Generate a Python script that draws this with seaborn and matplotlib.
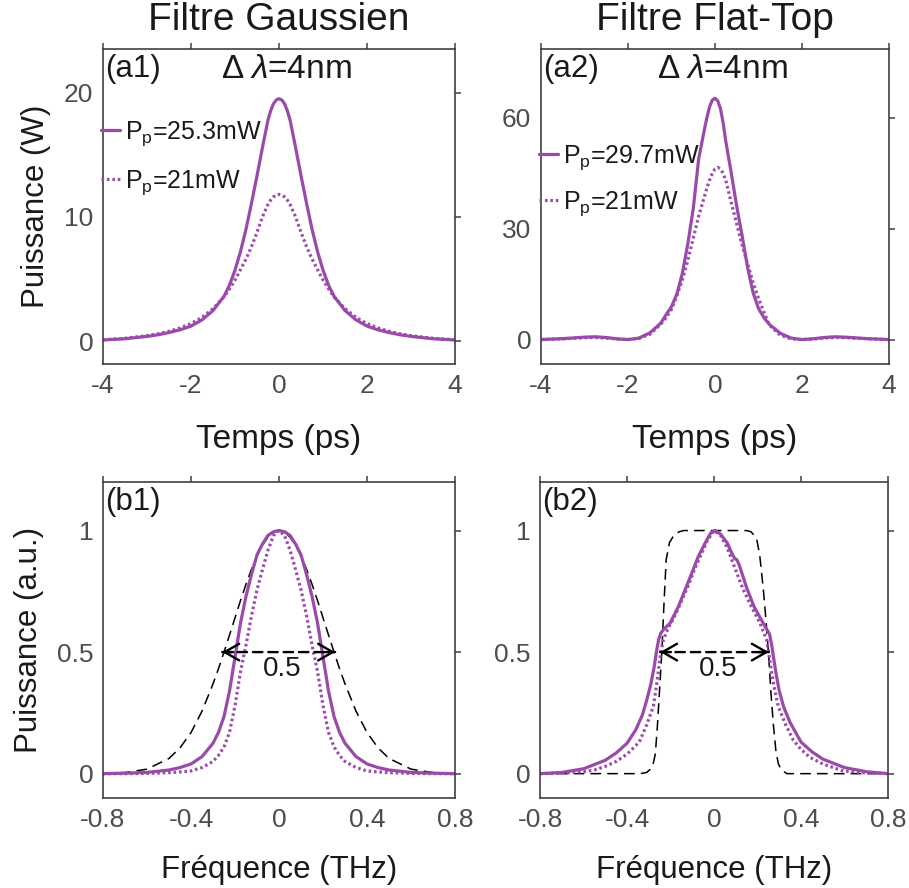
import matplotlib
matplotlib.use("Agg")
import matplotlib.pyplot as plt
import seaborn as sns
import pandas as pd

# ---------------- data ----------------
t_ps = [-4, -3.5, -3, -2.75, -2.5, -2.25, -2, -1.75, -1.5, -1.25, -1.125, -1,
        -0.875, -0.75, -0.625, -0.5, -0.375, -0.25, -0.1875, -0.125, -0.0625,
        0, 0.0625, 0.125, 0.1875, 0.25, 0.375, 0.5, 0.625, 0.75, 0.875, 1,
        1.125, 1.25, 1.5, 1.75, 2, 2.25, 2.5, 2.75, 3, 3.5, 4]

a1_high = [0.08, 0.18, 0.37, 0.5, 0.68, 0.9, 1.2, 1.7, 2.45, 3.6, 4.5, 5.7,
           7.2, 9.0, 11.1, 13.3, 15.6, 17.8, 18.55, 19.1, 19.4, 19.5, 19.4,
           19.1, 18.55, 17.8, 15.6, 13.3, 11.1, 9.0, 7.2, 5.7, 4.5, 3.6, 2.45,
           1.7, 1.2, 0.9, 0.68, 0.5, 0.37, 0.18, 0.08]
a1_low = [0.1, 0.22, 0.43, 0.58, 0.78, 1.05, 1.4, 1.9, 2.6, 3.55, 4.2, 4.9,
          5.75, 6.6, 7.6, 8.75, 10.0, 11.0, 11.35, 11.6, 11.75, 11.8, 11.75,
          11.6, 11.35, 11.0, 10.0, 8.75, 7.6, 6.6, 5.75, 4.9, 4.2, 3.55, 2.6,
          1.9, 1.4, 1.05, 0.78, 0.58, 0.43, 0.22, 0.1]

a2_high = [0.1, 0.35, 0.75, 0.85, 0.65, 0.3, 0.1, 0.5, 1.9, 4.5, 6.8, 9.0,
           12.5, 18.0, 26.0, 35.5, 49.0, 56.5, 60.0, 63.0, 64.8, 65.3, 64.6,
           62.5, 58.6, 53.5, 45.0, 36.0, 28.0, 19.5, 12.8, 8.5, 6.0, 4.2, 1.8,
           0.5, 0.1, 0.3, 0.65, 0.85, 0.75, 0.35, 0.1]
a2_low = [0.1, 0.3, 0.6, 0.65, 0.5, 0.25, 0.1, 0.4, 1.5, 4.2, 6.0, 8.3,
          12.0, 16.3, 21.5, 27.5, 33.5, 38.5, 41.0, 43.2, 45.0, 46.2, 46.6,
          46.2, 45.0, 43.0, 37.0, 31.3, 25.5, 20.5, 15.5, 11.2, 7.5, 4.0, 1.3,
          0.3, 0.1, 0.25, 0.5, 0.65, 0.6, 0.3, 0.1]

f_b1 = [-0.8, -0.7, -0.6, -0.5, -0.45, -0.4, -0.35, -0.3, -0.275, -0.25,
        -0.225, -0.2, -0.175, -0.15, -0.125, -0.1, -0.075, -0.05, -0.025, 0,
        0.025, 0.05, 0.075, 0.1, 0.125, 0.15, 0.175, 0.2, 0.225, 0.25, 0.275,
        0.3, 0.35, 0.4, 0.45, 0.5, 0.6, 0.7, 0.8]
b1_filter = [0.001, 0.0044, 0.0185, 0.0625, 0.106, 0.169, 0.257, 0.369, 0.432,
             0.5, 0.57, 0.641, 0.712, 0.779, 0.841, 0.895, 0.94, 0.973, 0.993,
             1.0, 0.993, 0.973, 0.94, 0.895, 0.841, 0.779, 0.712, 0.641, 0.57,
             0.5, 0.432, 0.369, 0.257, 0.169, 0.106, 0.0625, 0.0185, 0.0044,
             0.001]
b1_high = [0.0, 0.002, 0.005, 0.015, 0.025, 0.04, 0.07, 0.125, 0.17, 0.235,
           0.34, 0.48, 0.62, 0.73, 0.82, 0.9, 0.945, 0.98, 0.995, 1.0, 0.995,
           0.98, 0.945, 0.9, 0.82, 0.73, 0.62, 0.48, 0.34, 0.235, 0.17, 0.125,
           0.07, 0.04, 0.025, 0.015, 0.005, 0.002, 0.0]
b1_low = [0.0, 0.0, 0.001, 0.004, 0.007, 0.011, 0.025, 0.05, 0.075, 0.11,
          0.17, 0.28, 0.42, 0.53, 0.65, 0.756, 0.84, 0.92, 0.98, 1.0, 0.98,
          0.92, 0.84, 0.756, 0.65, 0.53, 0.42, 0.28, 0.17, 0.11, 0.075, 0.05,
          0.025, 0.011, 0.007, 0.004, 0.001, 0.0, 0.0]

f_b2_filter = [-0.8, -0.34, -0.31, -0.29, -0.28, -0.27, -0.26, -0.25, -0.24,
               -0.23, -0.22, -0.205, -0.185, -0.16, -0.14, 0.15, 0.17, 0.195,
               0.21, 0.227, 0.24, 0.25, 0.262, 0.273, 0.285, 0.296, 0.31,
               0.335, 0.8]
b2_filter = [0, 0, 0.005, 0.02, 0.04, 0.08, 0.2, 0.35, 0.5, 0.7, 0.88, 0.95,
             0.98, 0.995, 1.0, 1.0, 0.995, 0.97, 0.9, 0.756, 0.62, 0.5, 0.33,
             0.2, 0.09, 0.04, 0.015, 0, 0]

f_b2_high = [-0.8, -0.7, -0.6, -0.5, -0.45, -0.4, -0.36, -0.33, -0.31, -0.29,
             -0.275, -0.265, -0.255, -0.245, -0.23, -0.202, -0.164, -0.133,
             -0.1, -0.072, -0.04, -0.015, 0.005, 0.03, 0.06, 0.08, 0.095,
             0.105, 0.115, 0.13, 0.15, 0.184, 0.21, 0.235, 0.255, 0.265, 0.275,
             0.285, 0.3, 0.32, 0.35, 0.4, 0.45, 0.5, 0.6, 0.7, 0.8]
b2_high = [0.0, 0.005, 0.02, 0.055, 0.085, 0.125, 0.18, 0.24, 0.3, 0.37, 0.44,
           0.5, 0.55, 0.578, 0.595, 0.619, 0.687, 0.756, 0.83, 0.894, 0.95,
           0.99, 1.0, 0.985, 0.95, 0.91, 0.885, 0.88, 0.86, 0.82, 0.765, 0.687,
           0.645, 0.605, 0.575, 0.53, 0.47, 0.413, 0.34, 0.275, 0.21, 0.13,
           0.09, 0.06, 0.025, 0.008, 0.0]

f_b2_low = [-0.8, -0.7, -0.6, -0.55, -0.5, -0.45, -0.4, -0.36, -0.34, -0.31,
            -0.29, -0.279, -0.265, -0.257, -0.245, -0.233, -0.21, -0.185,
            -0.15, -0.12, -0.09, -0.06, -0.03, 0.0, 0.03, 0.06, 0.09, 0.12,
            0.135, 0.17, 0.211, 0.242, 0.251, 0.265, 0.28, 0.296, 0.33, 0.365,
            0.4, 0.441, 0.5, 0.594, 0.7, 0.8]
b2_low = [0.0, 0.002, 0.008, 0.015, 0.03, 0.05, 0.08, 0.115, 0.137, 0.2, 0.25,
          0.275, 0.36, 0.413, 0.5, 0.55, 0.6, 0.64, 0.71, 0.77, 0.84, 0.9,
          0.96, 1.0, 0.98, 0.93, 0.86, 0.79, 0.756, 0.69, 0.62, 0.55, 0.5,
          0.413, 0.34, 0.275, 0.2, 0.137, 0.1, 0.067, 0.04, 0.011, 0.003, 0.0]

titles = ["Filtre Gaussien", "Filtre Flat-Top"]
labels_a1 = ["P$_\\mathregular{p}$=25.3mW", "P$_\\mathregular{p}$=21mW"]
labels_a2 = ["P$_\\mathregular{p}$=29.7mW", "P$_\\mathregular{p}$=21mW"]
ticks_t = [-4, -2, 0, 2, 4]
ticks_f = [-0.8, -0.4, 0, 0.4, 0.8]
tick_labels_f = ["-0.8", "-0.4", "0", "0.4", "0.8"]
ticks_a1 = [0, 10, 20]
ticks_a2 = [0, 30, 60]
ticks_b = [0, 0.5, 1]
tick_labels_b = ["0", "0.5", "1"]

# ---------------- style ----------------
sns.set_style("white")
plt.rcParams["font.family"] = ["Liberation Sans", "DejaVu Sans"]
plt.rcParams["mathtext.fontset"] = "custom"
plt.rcParams["mathtext.rm"] = "Liberation Sans"
plt.rcParams["mathtext.it"] = "Liberation Sans:italic"
plt.rcParams["axes.unicode_minus"] = False

PURPLE = "#9a4aa9"
SPINE = "#404040"
TICKC = "#4d4d4d"
TXT = "#1a1a1a"
LW = 2.3
DOT = (0, (0.8, 0.9))

fig = plt.figure(figsize=(9.09, 8.88), dpi=100)
ax_a1 = fig.add_axes([0.1133, 0.5901, 0.3873, 0.3547])
ax_a2 = fig.add_axes([0.5952, 0.5901, 0.3828, 0.3547])
ax_b1 = fig.add_axes([0.1133, 0.1014, 0.3873, 0.3559])
ax_b2 = fig.add_axes([0.5941, 0.1014, 0.3828, 0.3559])


def style(ax):
    for s in ax.spines.values():
        s.set_color(SPINE)
        s.set_linewidth(1.2)
        s.set_visible(True)
    ax.tick_params(direction="out", length=4, width=1.1, color=SPINE,
                   top=True, right=True, labeltop=False, labelright=False,
                   labelsize=19, labelcolor=TICKC, pad=3)


def legend(ax, y, spacing):
    ax.legend(loc="upper left", bbox_to_anchor=(-0.005, y), frameon=False,
              fontsize=18, handlelength=0.75, handletextpad=0.2,
              labelspacing=spacing, borderaxespad=0, borderpad=0,
              labelcolor=TXT)


# ---- a1 ----
df = pd.DataFrame({"t": t_ps, "hi": a1_high, "lo": a1_low})
sns.lineplot(data=df, x="t", y="hi", ax=ax_a1, color=PURPLE, lw=LW,
             label=labels_a1[0])
sns.lineplot(data=df, x="t", y="lo", ax=ax_a1, color=PURPLE, lw=LW,
             linestyle=DOT, label=labels_a1[1])
ax_a1.set_xlim(-4, 4)
ax_a1.set_ylim(-1.85, 23.5)
ax_a1.set_xticks(ticks_t)
ax_a1.set_yticks(ticks_a1)
ax_a1.set_xlabel("Temps (ps)", fontsize=24, labelpad=19, color=TXT)
ax_a1.set_ylabel("Puissance (W)", fontsize=22.5, labelpad=9, color=TXT)
ax_a1.set_title(titles[0], fontsize=28, pad=14, color=TXT)
ax_a1.text(0.005, 0.985, "(a1)", transform=ax_a1.transAxes, fontsize=22.5,
           va="top", ha="left", color=TXT)
ax_a1.text(0.52, 0.985, r"$\Delta\;\lambda$=4nm", transform=ax_a1.transAxes,
           fontsize=24, va="top", ha="center", color=TXT)
legend(ax_a1, 0.776, 0.8)
style(ax_a1)

# ---- a2 ----
df = pd.DataFrame({"t": t_ps, "hi": a2_high, "lo": a2_low})
sns.lineplot(data=df, x="t", y="hi", ax=ax_a2, color=PURPLE, lw=LW,
             label=labels_a2[0])
sns.lineplot(data=df, x="t", y="lo", ax=ax_a2, color=PURPLE, lw=LW,
             linestyle=DOT, label=labels_a2[1])
ax_a2.set_xlim(-4, 4)
ax_a2.set_ylim(-6.5, 78.6)
ax_a2.set_xticks(ticks_t)
ax_a2.set_yticks(ticks_a2)
ax_a2.set_xlabel("Temps (ps)", fontsize=24, labelpad=19, color=TXT)
ax_a2.set_ylabel("")
ax_a2.set_title(titles[1], fontsize=28, pad=14, color=TXT)
ax_a2.text(0.005, 0.985, "(a2)", transform=ax_a2.transAxes, fontsize=22.5,
           va="top", ha="left", color=TXT)
ax_a2.text(0.52, 0.985, r"$\Delta\;\lambda$=4nm", transform=ax_a2.transAxes,
           fontsize=24, va="top", ha="center", color=TXT)
legend(ax_a2, 0.70, 0.7)
style(ax_a2)


def arrow(ax, x0, x1, y, txt_x, txt_y):
    ax.annotate("", xy=(x1, y), xytext=(x0, y),
                arrowprops=dict(arrowstyle="-", linestyle=(0, (4, 2.5)),
                                lw=1.7, color="black", shrinkA=0, shrinkB=0))
    for tip, tail in ((x0, x0 + 0.05), (x1, x1 - 0.05)):
        ax.annotate("", xy=(tip, y), xytext=(tail, y),
                    arrowprops=dict(arrowstyle="->,head_length=0.7,head_width=0.4",
                                    lw=1.7, color="black", shrinkA=0,
                                    shrinkB=0, mutation_scale=15))
    ax.text(txt_x, txt_y, "0.5", fontsize=20, ha="center", va="center",
            color=TXT)


# ---- b1 ----
df = pd.DataFrame({"f": f_b1, "flt": b1_filter, "hi": b1_high, "lo": b1_low})
sns.lineplot(data=df, x="f", y="flt", ax=ax_b1, color="black", lw=1.1,
             linestyle=(0, (7, 4)))
sns.lineplot(data=df, x="f", y="hi", ax=ax_b1, color=PURPLE, lw=LW)
sns.lineplot(data=df, x="f", y="lo", ax=ax_b1, color=PURPLE, lw=LW,
             linestyle=DOT)
arrow(ax_b1, -0.258, 0.255, 0.5, 0.015, 0.43)
ax_b1.set_xlim(-0.8, 0.8)
ax_b1.set_ylim(-0.1, 1.2)
ax_b1.set_xticks(ticks_f)
ax_b1.set_xticklabels(tick_labels_f)
ax_b1.set_yticks(ticks_b)
ax_b1.set_yticklabels(tick_labels_b)
ax_b1.set_xlabel("Fréquence (THz)", fontsize=22.5, labelpad=17, color=TXT)
ax_b1.set_ylabel("Puissance (a.u.)", fontsize=22.5, labelpad=9, color=TXT)
ax_b1.text(0.005, 0.985, "(b1)", transform=ax_b1.transAxes, fontsize=22.5,
           va="top", ha="left", color=TXT)
style(ax_b1)

# ---- b2 ----
df_f = pd.DataFrame({"f": f_b2_filter, "v": b2_filter})
df_h = pd.DataFrame({"f": f_b2_high, "v": b2_high})
df_l = pd.DataFrame({"f": f_b2_low, "v": b2_low})
sns.lineplot(data=df_f, x="f", y="v", ax=ax_b2, color="black", lw=1.1,
             linestyle=(0, (7, 4)))
sns.lineplot(data=df_h, x="f", y="v", ax=ax_b2, color=PURPLE, lw=LW)
sns.lineplot(data=df_l, x="f", y="v", ax=ax_b2, color=PURPLE, lw=LW,
             linestyle=DOT)
arrow(ax_b2, -0.248, 0.252, 0.5, 0.02, 0.43)
ax_b2.set_xlim(-0.8, 0.8)
ax_b2.set_ylim(-0.1, 1.2)
ax_b2.set_xticks(ticks_f)
ax_b2.set_xticklabels(tick_labels_f)
ax_b2.set_yticks(ticks_b)
ax_b2.set_yticklabels(tick_labels_b)
ax_b2.set_xlabel("Fréquence (THz)", fontsize=22.5, labelpad=17, color=TXT)
ax_b2.set_ylabel("")
ax_b2.text(0.005, 0.985, "(b2)", transform=ax_b2.transAxes, fontsize=22.5,
           va="top", ha="left", color=TXT)
style(ax_b2)

fig.savefig("out.png", dpi=100)
